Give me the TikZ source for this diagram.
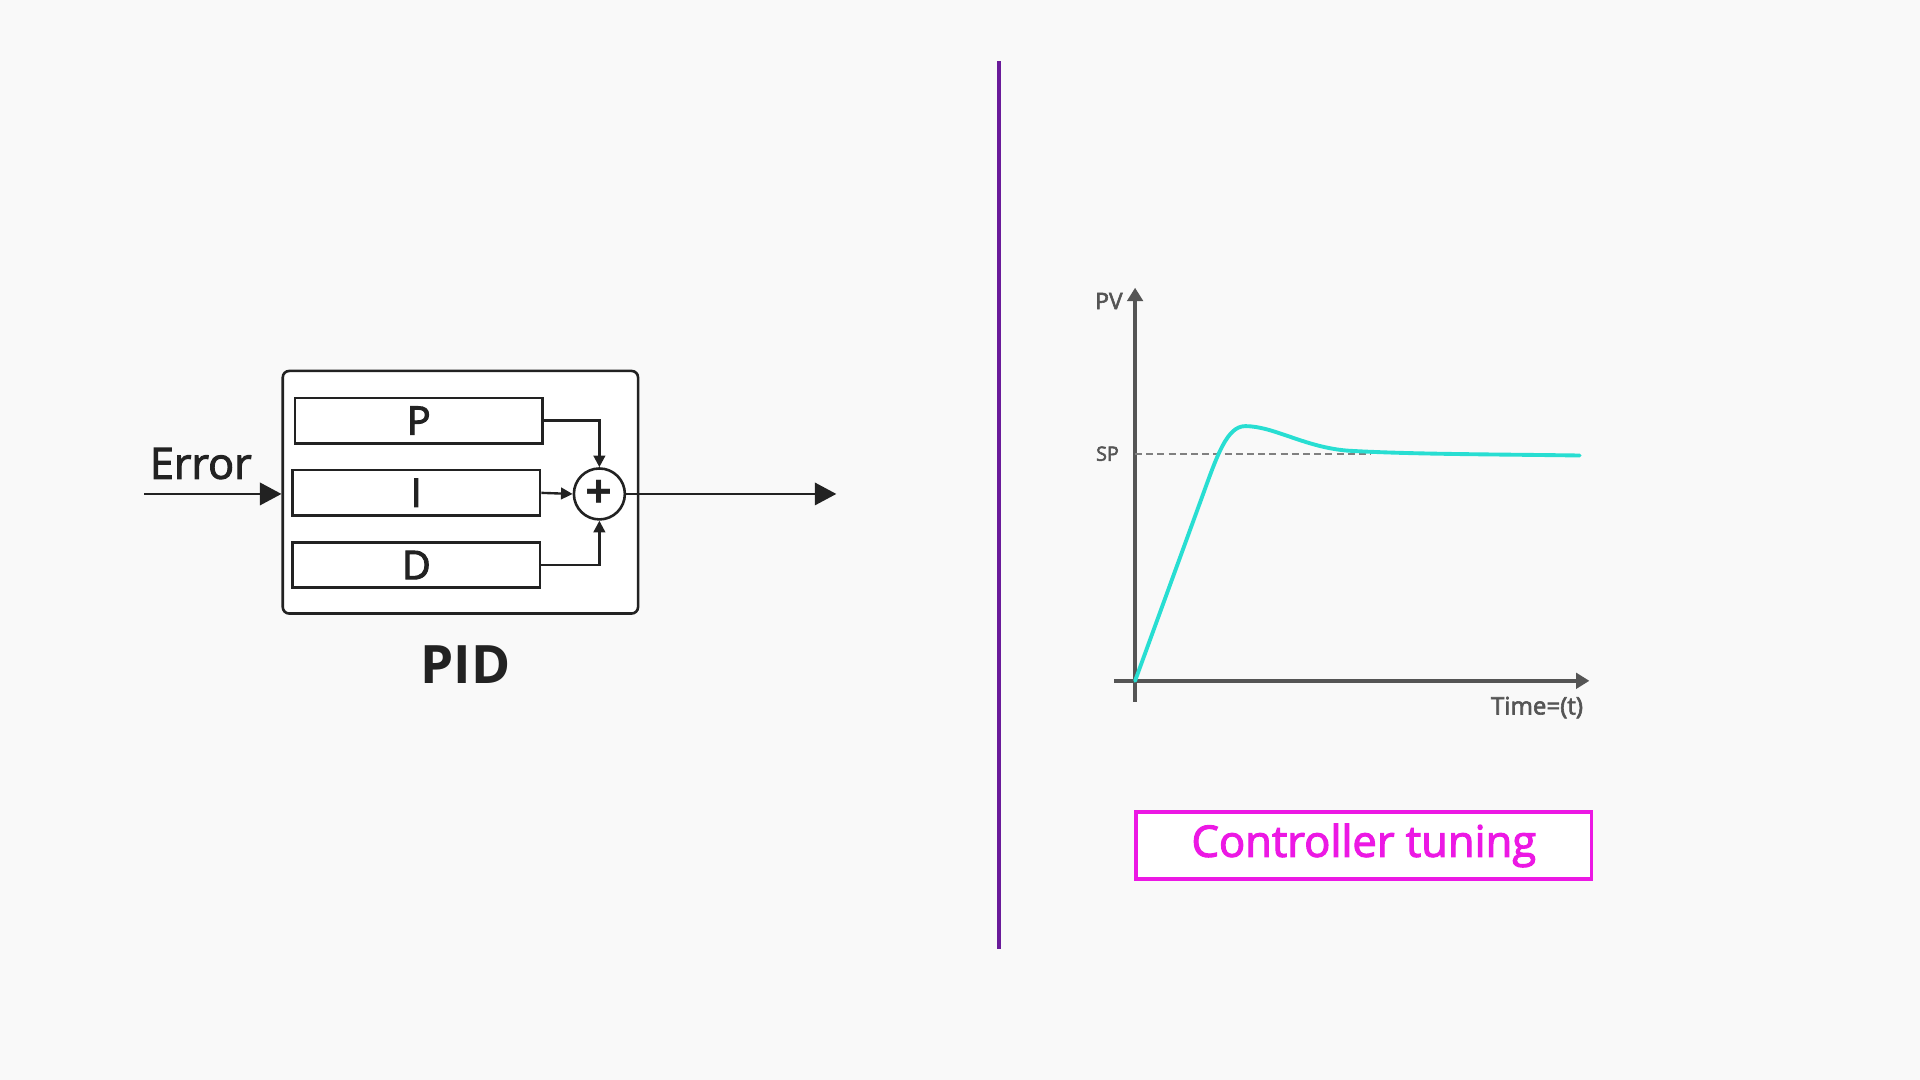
\documentclass[tikz,border=0pt]{standalone}
\usepackage{fontspec}
\setmainfont{Open Sans}
\newfontfamily\semib{Open Sans}[FakeBold=2.5]
\usetikzlibrary{arrows.meta}
\definecolor{bg}{HTML}{F9F9F9}
\definecolor{ink}{HTML}{222222}
\definecolor{axis}{HTML}{555555}
\definecolor{turq}{RGB}{40,222,210}
\definecolor{magent}{RGB}{236,24,228}
\definecolor{divider}{RGB}{106,27,154}
\tikzset{
  blk/.style={draw=ink, fill=white, line width=0.6pt, minimum width=2.02cm, minimum height=0.37cm, inner sep=0pt, font=\fontsize{9.2}{10}\selectfont\semib, text=ink},
  bigtip/.style={-{Triangle[length=5pt,width=5.2pt]}},
  smalltip/.style={-{Triangle[length=2.7pt,width=2.7pt]}},
  axlbl/.style={anchor=base east, inner sep=0pt, text=axis},
}
\begin{document}
\begin{tikzpicture}[x=0.01cm, y=-0.01cm]
\useasboundingbox (0,0) rectangle (1568,882);
\fill[bg] (0,0) rectangle (1568,882);

% PID block
\node[draw=ink, fill=white, line width=0.6pt, rounded corners=1.5pt, minimum width=2.9cm, minimum height=1.98cm, inner sep=0pt] (pid) at (376,402) {};
\node[blk] (p) at (342,343.5) {P};
\node[blk] (i) at (340,402.5) {I};
\node[blk] (d) at (340,461.5) {D};
\node[draw=ink, circle, line width=0.6pt, minimum size=0.416cm, inner sep=0pt, font=\fontsize{11}{11}\selectfont\bfseries, text=ink] (sum) at (489.5,403.4) {+};
\node[anchor=base, font=\fontsize{10}{12}\selectfont\semib, text=ink] (err) at (164,391) {Error};
\node[anchor=base, font=\fontsize{12.3}{14}\selectfont\bfseries, text=ink] (lbl) at (380,558) {PID};
\coordinate (in) at (118,403.4);
\coordinate (out) at (683,403.4);

\draw [bigtip, ink, line width=0.55pt] (in) -- (in -| pid.west);
\draw [smalltip, ink, line width=0.55pt] (p.east) -| (sum.north);
\draw [smalltip, ink, line width=0.55pt] (i.east) -- (sum.west);
\draw [smalltip, ink, line width=0.55pt] (d.east) -| (sum.south);
\draw [bigtip, ink, line width=0.55pt] (sum.east) -- (out);

% divider
\draw [divider, line width=0.85pt] (816,50) -- (816,775);

% response plot
\coordinate (o) at (927,556);
\coordinate (ytop) at (927,235);
\coordinate (ybot) at (927,573);
\coordinate (xl) at (910,556);
\coordinate (xr) at (1298,556);
\coordinate (sp) at (927,371);
\coordinate (spend) at (1120,371);
\node[axlbl, font=\fontsize{5.3}{6}\selectfont\semib] (pv) at (917.5,252.5) {PV};
\node[axlbl, font=\fontsize{4.6}{5}\selectfont\semib] (splbl) at (914.5,376.3) {SP};
\node[axlbl, font=\fontsize{5.6}{6}\selectfont\semib] (time) at (1293.5,583.5) {Time=(t)};

\draw [axis, line width=0.94pt, -{Triangle[length=3.1pt,width=3.6pt]}] (ybot) -- (ytop);
\draw [axis, line width=0.94pt, -{Triangle[length=3.1pt,width=3.6pt]}] (xl) -- (xr);
\draw [gray, line width=0.4pt, dash pattern=on 1.6pt off 1pt] (sp) -- (spend);
\draw [turq, line width=0.9pt, line cap=round] (o) -- (982,405) .. controls (994,372) and (1002,348) .. (1017,348) .. controls (1040,348) and (1065,365) .. (1100,368) .. controls (1150,371) and (1220,371) .. (1290,372);

% tuning label
\node[draw=magent, fill=white, line width=0.8pt, minimum width=3.72cm, minimum height=0.55cm, inner sep=0pt, font=\fontsize{10.1}{11}\selectfont\semib, text=magent] (tune) at (1113.8,690.5) {Controller tuning};

\end{tikzpicture}
\end{document}
